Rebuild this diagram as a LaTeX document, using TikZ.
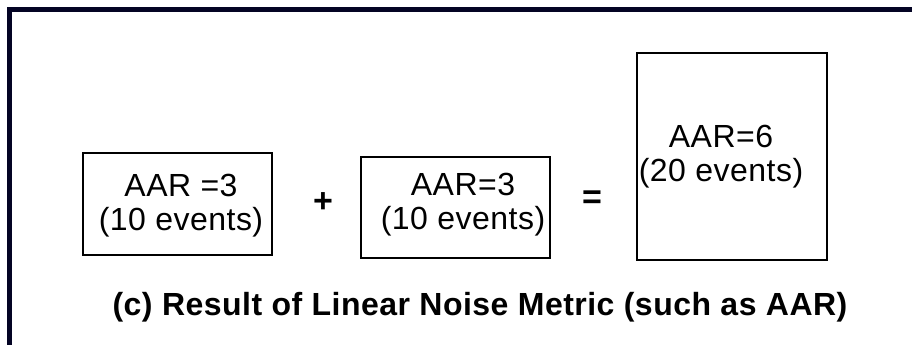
\documentclass[tikz,border=0pt]{standalone}
\usepackage{fontspec}
\setmainfont{Liberation Sans}
\definecolor{framecol}{RGB}{4,4,36}
\tikzset{
  box/.style={draw=black, line width=2pt, fill=white, inner sep=0pt},
  boxtext/.style={align=center, inner sep=0pt, font=\addfontfeatures{LetterSpace=1.5}\fontsize{32}{34}\selectfont},
  optext/.style={inner sep=0pt, font=\bfseries\fontsize{34}{34}\selectfont},
  captext/.style={inner sep=0pt, font=\bfseries\addfontfeatures{LetterSpace=1.5}\fontsize{32}{34}\selectfont},
  frameline/.style={draw=framecol, line width=5pt}
}
\begin{document}
\begin{tikzpicture}[x=1pt,y=-1pt]
\useasboundingbox (0,0) rectangle (912,345);
% frame (open on right and bottom)
\coordinate (fb) at (9.5,345);
\coordinate (fc) at (9.5,9.5);
\coordinate (fr) at (912,9.5);
\draw[frameline] (fb) -- (fc) -- (fr);
% boxes
\node[box, minimum width=189pt, minimum height=102pt] (b1) at (177.5,204) {};
\node[box, minimum width=189pt, minimum height=101pt] (b2) at (455.5,207.5) {};
\node[box, minimum width=190pt, minimum height=207pt] (b3) at (732,156.5) {};
% box texts
\node[boxtext] (t1) at (181,206) {AAR =3\\(10 events)};
\node[boxtext] (t2) at (463,205) {AAR=3\\(10 events)};
\node[boxtext] (t3) at (721,157) {AAR=6\\(20 events)};
% operators
\node[optext] (plus) at (323,203) {+};
\node[optext] (eq) at (592,200) {=};
% caption
\node[captext] (cap) at (480,307) {(c) Result of Linear Noise Metric (such as AAR)};
\end{tikzpicture}
\end{document}
